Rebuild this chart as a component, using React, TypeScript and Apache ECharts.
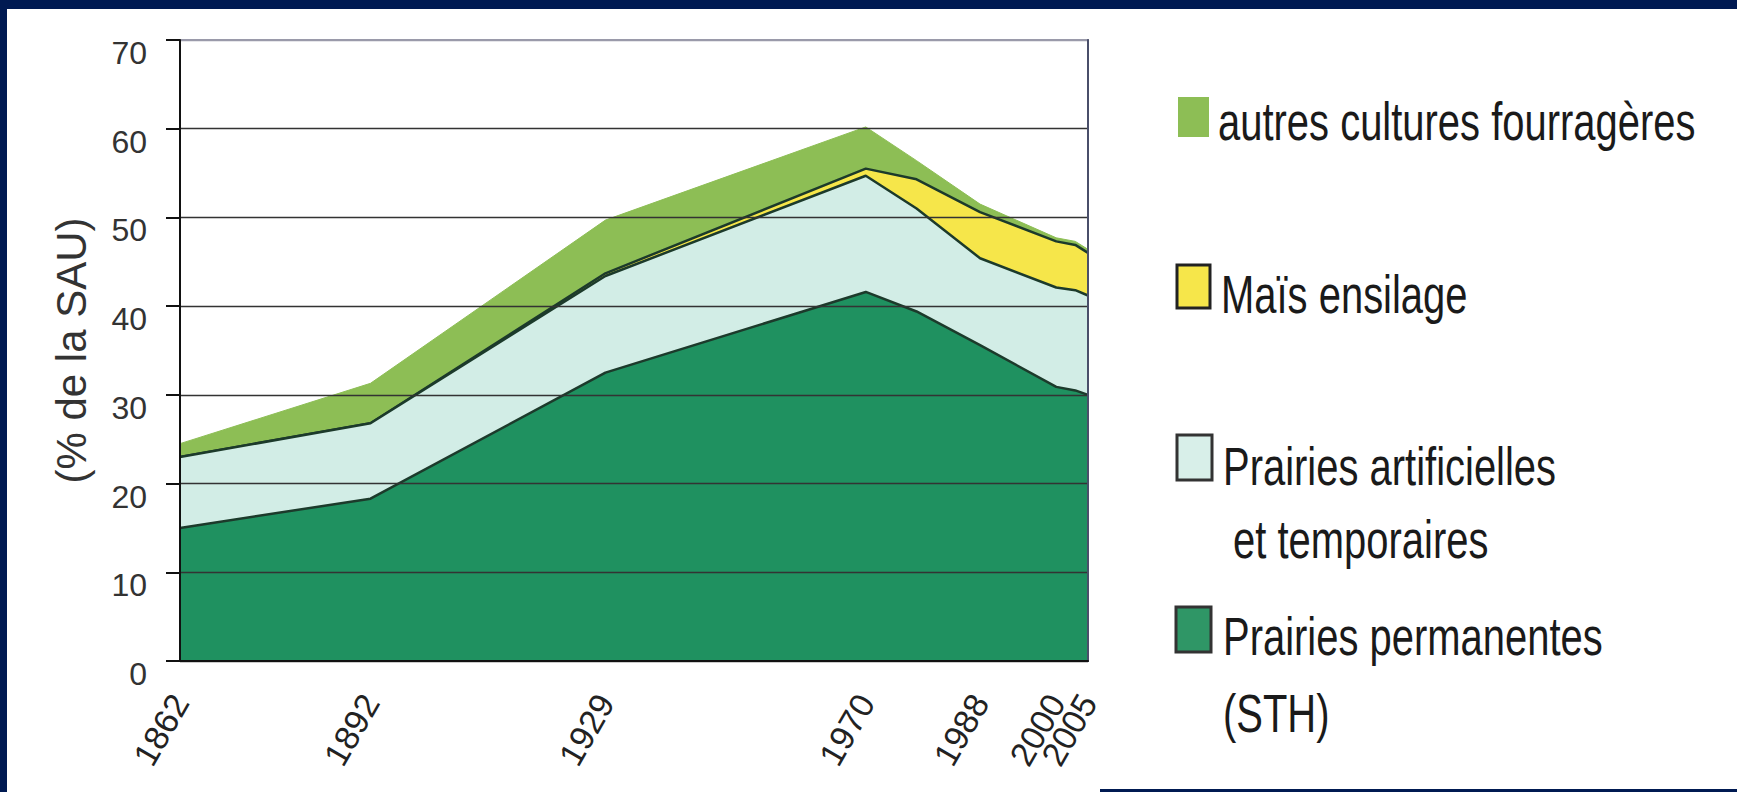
import React, { useEffect, useRef } from "react";
import * as echarts from "echarts";

// ---- data ----
const years = [1862, 1892, 1929, 1970, 1978, 1988, 2000, 2003, 2005];
const labelYears = [1862, 1892, 1929, 1970, 1988, 2000];
const lastLabelYear = [2005];
const prairiesPermanentes = [15.0, 18.3, 32.5, 41.6, 39.4, 35.6, 30.9, 30.5, 30.0];
const prairiesArtificielles = [8.0, 8.5, 10.9, 13.1, 11.6, 9.8, 11.2, 11.3, 11.2];
const maisEnsilage = [0, 0, 0.3, 0.8, 3.3, 5.2, 5.2, 5.1, 4.8];
const autresCultures = [1.5, 4.5, 6.0, 4.7, 2.1, 0.9, 0.4, 0.4, 0.4];

const legendNames = [
  "autres cultures fourragères",
  "Maïs ensilage",
  "Prairies artificielles",
  "et temporaires",
  "Prairies permanentes",
  "(STH)",
];
const yAxisTitle = "(% de la SAU)";

const C_PERM = "#1f9160";
const C_ART = "#d2ede6";
const C_MAIS = "#f6e64a";
const C_AUTRES = "#8dbe55";
const C_EDGE = "#1c3a2b";
const NAVY = "#001a52";

export default function App() {
  const ref = useRef<HTMLDivElement>(null);

  useEffect(() => {
    document.body.style.margin = "0";
    document.body.style.background = "#fff";
    document.documentElement.style.background = "#fff";
    if (!ref.current) return;
    const chart = echarts.init(ref.current, undefined, { renderer: "svg" });

    // cumulative tops built from the layer arrays
    const cum = (layers: number[][]) =>
      years.map((yr, i) => [yr, +layers.reduce((s, l) => s + l[i], 0).toFixed(2)]);
    const top1 = cum([prairiesPermanentes]);
    const top2 = cum([prairiesPermanentes, prairiesArtificielles]);
    const top3 = cum([prairiesPermanentes, prairiesArtificielles, maisEnsilage]);
    const top4 = cum([prairiesPermanentes, prairiesArtificielles, maisEnsilage, autresCultures]);

    const mk = (name: string, data: number[][], fill: string, edge: string, w: number, z: number) => ({
      name,
      type: "line",
      data,
      symbol: "none",
      z,
      lineStyle: { color: edge, width: w },
      areaStyle: { color: fill, opacity: 1, origin: 0 },
      emphasis: { disabled: true },
    });

    const FONT = "'Liberation Sans', Arial, sans-serif";
    const legendText = (txt: string, x: number, y: number) => ({
      type: "text",
      x,
      y,
      scaleX: 0.74,
      style: {
        text: txt,
        font: `54px ${FONT}`,
        fill: "#1a1a1a",
        textVerticalAlign: "middle",
        verticalAlign: "middle",
      },
    });
    const legendRect = (x: number, y: number, w: number, h: number, fill: string, stroke?: string) => ({
      type: "rect",
      shape: { x, y, width: w, height: h },
      style: stroke ? { fill, stroke, lineWidth: 3 } : { fill },
    });

    const xLabel = (values: number[]) => ({
      customValues: values,
      hideOverlap: false,
      showMinLabel: true,
      showMaxLabel: true,
      rotate: 60,
      margin: 36,
      fontSize: 34,
      fontFamily: FONT,
      color: "#222",
      formatter: (v: number) => String(v),
    });

    chart.setOption({
      animation: false,
      backgroundColor: "#ffffff",
      grid: {
        left: 180,
        right: 649,
        top: 40,
        bottom: 131,
        show: true,
        borderColor: "#9a9aaa",
        borderWidth: 2,
        backgroundColor: "transparent",
      },
      xAxis: [
        {
          type: "value",
          min: 1862,
          max: 2005,
          z: 10,
          position: "bottom",
          axisLine: { show: true, lineStyle: { color: "#111", width: 2 } },
          axisTick: { show: false },
          splitLine: { show: false },
          axisLabel: xLabel(labelYears),
        },
        {
          type: "value",
          min: 1862,
          max: 2005,
          z: 10,
          position: "bottom",
          offset: 0,
          axisLine: { show: false },
          axisTick: { show: false },
          splitLine: { show: false },
          axisLabel: xLabel(lastLabelYear),
        },
      ],
      yAxis: [
        {
          type: "value",
          min: 0,
          max: 70,
          interval: 10,
          z: 10,
          name: yAxisTitle,
          nameLocation: "middle",
          nameRotate: 90,
          nameGap: 88,
          nameTextStyle: { fontSize: 42, fontFamily: FONT, color: "#333" },
          axisLine: { show: true, lineStyle: { color: "#111", width: 2 } },
          axisTick: { show: true, inside: false, length: 14, lineStyle: { color: "#111", width: 2 } },
          axisLabel: {
            margin: 33,
            fontSize: 32,
            fontFamily: FONT,
            color: "#333",
            verticalAlign: "top",
            padding: [-3, 0, 0, 0],
          },
          splitLine: {
            show: true,
            lineStyle: {
              color: ["#333", "#333", "#333", "#333", "#333", "#333", "#333", "#9a9aaa"],
              width: 1.3,
            },
          },
        },
        {
          type: "value",
          min: 0,
          max: 70,
          position: "right",
          z: 10,
          axisLine: { show: true, lineStyle: { color: "#4a4f6a", width: 2 } },
          axisTick: { show: false },
          axisLabel: { show: false },
          splitLine: { show: false },
        },
      ],
      series: [
        mk("autres cultures fourragères", top4, C_AUTRES, C_AUTRES, 1, 2),
        mk("Maïs ensilage", top3, C_MAIS, C_EDGE, 2.5, 3),
        mk("Prairies artificielles et temporaires", top2, C_ART, C_EDGE, 2.5, 4),
        mk("Prairies permanentes (STH)", top1, C_PERM, C_EDGE, 2.5, 5),
      ],
      graphic: [
        // navy frame
        { type: "rect", shape: { x: 0, y: 0, width: 1737, height: 9 }, style: { fill: NAVY }, z: 100 },
        { type: "rect", shape: { x: 0, y: 0, width: 7, height: 792 }, style: { fill: NAVY }, z: 100 },
        { type: "rect", shape: { x: 1100, y: 789, width: 637, height: 3 }, style: { fill: NAVY }, z: 100 },
        // legend
        legendRect(1178, 97, 31, 40, C_AUTRES),
        legendText(legendNames[0], 1218, 121),
        legendRect(1177, 265, 33, 43, C_MAIS, "#222"),
        legendText(legendNames[1], 1221, 294),
        legendRect(1177, 435, 35, 45, "#d8efe9", "#333"),
        legendText(legendNames[2], 1223, 466),
        legendText(legendNames[3], 1233, 539),
        legendRect(1176, 607, 35, 45, "#2f9666", "#333"),
        legendText(legendNames[4], 1223, 636),
        legendText(legendNames[5], 1223, 713),
      ],
    });

    return () => chart.dispose();
  }, []);

  return <div ref={ref} style={{ width: 1737, height: 792, background: "#fff" }} />;
}
